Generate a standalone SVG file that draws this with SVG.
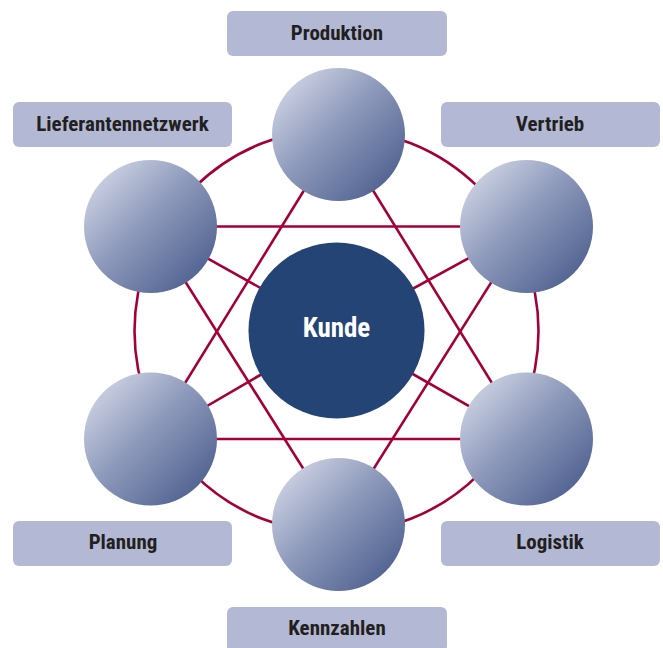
<svg xmlns="http://www.w3.org/2000/svg" width="663" height="648" viewBox="0 0 663 648">
<defs>
<linearGradient id="ball" x1="0" y1="0" x2="1" y2="1">
<stop offset="0" stop-color="#e0e3ef"/>
<stop offset="0.45" stop-color="#8f9bbc"/>
<stop offset="1" stop-color="#405385"/>
</linearGradient>
<style>
.lbl{fill:#b3b9d4}
.t{font-family:"Liberation Sans Narrow","Roboto Condensed","DejaVu Sans Condensed","Liberation Sans",sans-serif;font-weight:bold;font-size:21px;fill:#231f20;text-anchor:middle}
.k{font-family:"Liberation Sans Narrow","Roboto Condensed","DejaVu Sans Condensed","Liberation Sans",sans-serif;font-weight:bold;font-size:27px;fill:#ffffff;text-anchor:middle}
.c{stroke:#a3003a;stroke-width:2.6;fill:none}
.ball{fill:url(#ball)}
</style>
</defs>
<rect width="663" height="648" fill="#ffffff"/>
<g id="connectors">
<circle class="c" cx="336.5" cy="331" r="202"/>
<line class="c" x1="150.5" y1="226.5" x2="526.5" y2="226.5"/>
<line class="c" x1="150.5" y1="439" x2="526.5" y2="439"/>
<line class="c" x1="338.5" y1="134.5" x2="150.5" y2="439"/>
<line class="c" x1="338.5" y1="134.5" x2="526.5" y2="439"/>
<line class="c" x1="338.5" y1="524.5" x2="150.5" y2="226.5"/>
<line class="c" x1="338.5" y1="524.5" x2="526.5" y2="226.5"/>
<line class="c" x1="150.5" y1="226.5" x2="336.5" y2="330.5"/>
<line class="c" x1="526.5" y1="226.5" x2="336.5" y2="330.5"/>
<line class="c" x1="150.5" y1="439" x2="336.5" y2="330.5"/>
<line class="c" x1="526.5" y1="439" x2="336.5" y2="330.5"/>
</g>
<g id="kunde">
<circle cx="336.5" cy="330.5" r="88" fill="#234475"/>
<text class="k" x="336.5" y="337">Kunde</text>
</g>
<g id="produktion">
<rect class="lbl" x="227" y="11" width="220" height="45" rx="6"/>
<text class="t" x="337" y="39.5">Produktion</text>
<circle class="ball" cx="338.5" cy="134.5" r="66.5"/>
</g>
<g id="lieferantennetzwerk">
<rect class="lbl" x="13" y="102" width="219" height="45" rx="6"/>
<text class="t" x="122.5" y="130.5">Lieferantennetzwerk</text>
<circle class="ball" cx="150.5" cy="226.5" r="66.5"/>
</g>
<g id="vertrieb">
<rect class="lbl" x="441" y="102" width="219" height="45" rx="6"/>
<text class="t" x="550" y="130.5">Vertrieb</text>
<circle class="ball" cx="526.5" cy="226.5" r="66.5"/>
</g>
<g id="planung">
<rect class="lbl" x="13" y="521" width="219" height="45" rx="6"/>
<text class="t" x="123" y="548.5">Planung</text>
<circle class="ball" cx="150.5" cy="439" r="66.5"/>
</g>
<g id="logistik">
<rect class="lbl" x="441" y="521" width="219" height="45" rx="6"/>
<text class="t" x="550" y="548.5">Logistik</text>
<circle class="ball" cx="526.5" cy="439" r="66.5"/>
</g>
<g id="kennzahlen">
<rect class="lbl" x="227" y="607" width="220" height="45" rx="6"/>
<text class="t" x="337" y="634.5">Kennzahlen</text>
<circle class="ball" cx="338.5" cy="524.5" r="66.5"/>
</g>
</svg>
